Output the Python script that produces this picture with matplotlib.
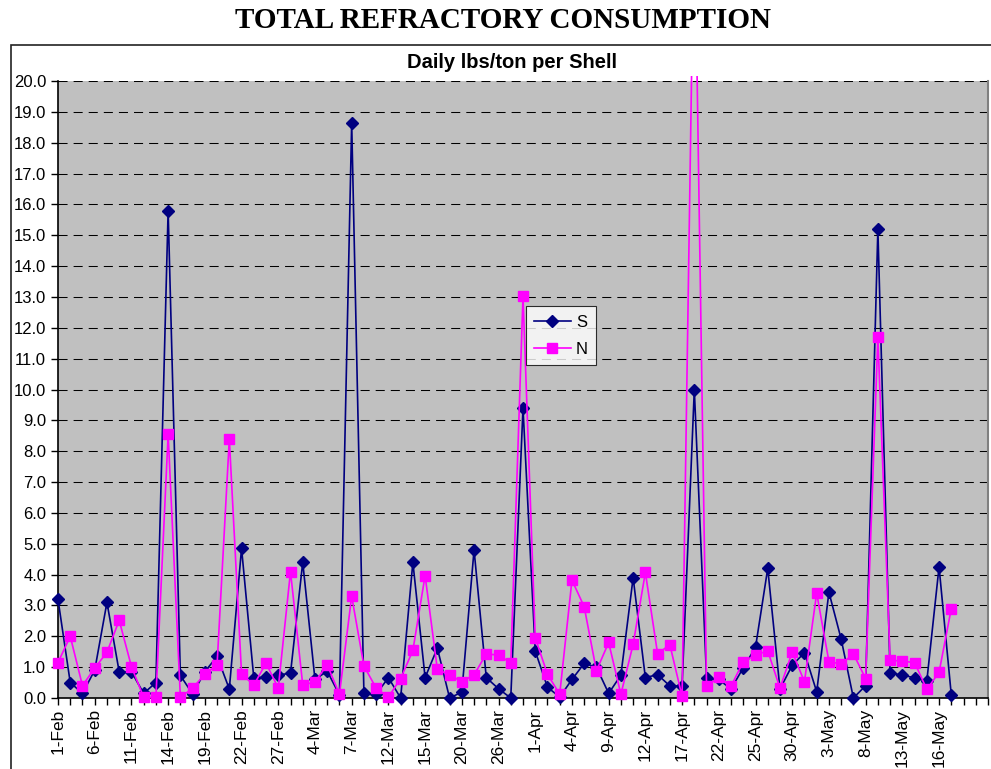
"""
Total refractory consumption, daily lbs/ton per shell (S and N)
"""

import matplotlib
matplotlib.use("Agg")
import matplotlib.pyplot as plt
from matplotlib.patches import Rectangle
from matplotlib.lines import Line2D

# tick labels, one every 3rd category
tick_labels = ['1-Feb', '6-Feb', '11-Feb', '14-Feb', '19-Feb', '22-Feb', '27-Feb',
               '4-Mar', '7-Mar', '12-Mar', '15-Mar', '20-Mar', '26-Mar', '1-Apr',
               '4-Apr', '9-Apr', '12-Apr', '17-Apr', '22-Apr', '25-Apr', '30-Apr',
               '3-May', '8-May', '13-May', '16-May']
n_categories = 77  # includes three empty slots at the end

s_vals = [3.2, 0.5, 0.15, 0.9, 3.1, 0.85, 0.85, 0.15, 0.5, 15.8,
          0.73, 0.13, 0.85, 1.35, 0.29, 4.85, 0.65, 0.68, 0.75, 0.8,
          4.4, 0.6, 0.87, 0.1, 18.65, 0.15, 0.12, 0.66, 0.0, 4.4,
          0.66, 1.62, 0.0, 0.19, 4.8, 0.66, 0.3, 0.0, 9.4, 1.52,
          0.35, 0.03, 0.6, 1.12, 1.0, 0.15, 0.74, 3.9, 0.66, 0.76,
          0.39, 0.39, 10.0, 0.65, 0.6, 0.29, 0.98, 1.64, 4.2, 0.29,
          1.06, 1.47, 0.2, 3.43, 1.91, 0.0, 0.4, 15.2, 0.8, 0.75,
          0.65, 0.55, 4.25, 0.1]

n_vals = [1.15, 2.0, 0.4, 0.97, 1.48, 2.52, 1.02, 0.02, 0.02, 8.55,
          0.02, 0.32, 0.77, 1.08, 8.4, 0.78, 0.42, 1.13, 0.32, 4.1,
          0.42, 0.52, 1.08, 0.12, 3.3, 1.04, 0.32, 0.03, 0.63, 1.54,
          3.97, 0.93, 0.75, 0.53, 0.75, 1.43, 1.39, 1.14, 13.02, 1.95,
          0.77, 0.12, 3.82, 2.96, 0.88, 1.8, 0.12, 1.74, 4.07, 1.43,
          1.73, 0.05, 26.0, 0.38, 0.67, 0.38, 1.18, 1.39, 1.53, 0.32,
          1.49, 0.53, 3.4, 1.18, 1.1, 1.43, 0.63, 11.7, 1.23, 1.19,
          1.15, 0.28, 0.83, 2.9]

S_COLOR = '#000080'
N_COLOR = '#FF00FF'

plt.rcParams['font.family'] = ['Liberation Sans', 'DejaVu Sans']

W, H = 991, 769
fig = plt.figure(figsize=(W / 100, H / 100), dpi=100)
fig.patch.set_facecolor('white')

# chart area border (cut off at right and bottom like the original)
fig.patches.append(Rectangle((11 / W, -0.05), 1.2, 1.05 - 45 / H,
                             transform=fig.transFigure, fill=False,
                             edgecolor='#222222', linewidth=1.2))

fig.text(0.508, 1 - 21 / H, 'TOTAL REFRACTORY CONSUMPTION',
         ha='center', va='center', fontsize=21, fontweight='bold',
         family=['Liberation Serif', 'DejaVu Serif'])
fig.text(0.517, 1 - 62 / H, 'Daily lbs/ton per Shell',
         ha='center', va='center', fontsize=14.5, fontweight='bold')

ax = fig.add_axes([58 / W, 71 / H, 930 / W, 617 / H])
ax.set_facecolor('#C0C0C0')

x = list(range(len(s_vals)))
# clip lines at the top of the plot but let edge markers show fully
clip = Rectangle((-0.02, -0.05), 1.04, 1.058, transform=ax.transAxes,
                 facecolor='none', edgecolor='none')

s_line, = ax.plot(x, s_vals, color=S_COLOR, linewidth=1.2, marker='D',
                  markersize=6.0, zorder=3)
n_line, = ax.plot(x, n_vals, color=N_COLOR, linewidth=1.2, marker='s',
                  markersize=6.5, zorder=3)
s_line.set_clip_path(clip)
n_line.set_clip_path(clip)

ax.set_xlim(0, n_categories - 1)
ax.set_ylim(0, 20)

ax.set_yticks([i for i in range(21)])
ax.set_yticklabels([f'{i:.1f}' for i in range(21)], fontsize=12)
ax.set_xticks(range(n_categories))
labels = [''] * n_categories
for k, lab in enumerate(tick_labels):
    labels[k * 3] = lab
ax.set_xticklabels(labels, rotation=90, fontsize=12.5)
ax.tick_params(axis='both', direction='out', length=5, width=1, color='black')
ax.tick_params(axis='x', pad=3)

ax.yaxis.grid(True, color='black', linewidth=0.75, linestyle=(0, (8.7, 5.8)))
ax.set_axisbelow(True)

for side in ['left', 'bottom']:
    ax.spines[side].set_color('black')
    ax.spines[side].set_linewidth(1.2)
ax.spines['right'].set_color('#808080')
ax.spines['right'].set_linewidth(1.5)
ax.spines['top'].set_visible(False)

handles = [Line2D([], [], color=S_COLOR, marker='D', markersize=6.0, linewidth=1.2),
           Line2D([], [], color=N_COLOR, marker='s', markersize=6.5, linewidth=1.2)]
leg = ax.legend(handles, ['S', 'N'], loc='upper left', bbox_to_anchor=(0.503, 0.635),
                fontsize=12, frameon=True, fancybox=False, handlelength=2.2,
                borderpad=0.5, labelspacing=0.75, handletextpad=0.3,
                borderaxespad=0)
leg.get_frame().set_edgecolor('black')
leg.get_frame().set_facecolor('white')
leg.get_frame().set_linewidth(0.8)
leg.set_zorder(5)

fig.savefig('out.png', dpi=100)
